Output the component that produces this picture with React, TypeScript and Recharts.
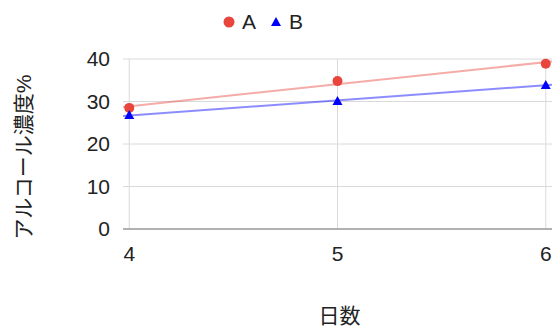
import {
  CartesianGrid,
  ComposedChart,
  Legend,
  Line,
  ReferenceLine,
  Scatter,
  XAxis,
  YAxis,
} from "recharts";

const days = [4, 5, 6];
const seriesA = [28.5, 34.8, 38.9];
const seriesB = [26.8, 30.1, 33.9];
const yTicks = [0, 10, 20, 30, 40];

const X_DOMAIN: [number, number] = [3.97, 6.03];
const FONT = "'Liberation Sans', Arial, 'Noto Sans CJK JP', sans-serif";
const RED = "#e8453c";
const BLUE = "#0000ff";
const GRID = "#dadada";

// least-squares line evaluated at both ends of the x domain
function trendline(xs: number[], ys: number[]) {
  const n = xs.length;
  const mx = xs.reduce((s, v) => s + v, 0) / n;
  const my = ys.reduce((s, v) => s + v, 0) / n;
  let num = 0;
  let den = 0;
  xs.forEach((x, i) => {
    num += (x - mx) * (ys[i] - my);
    den += (x - mx) * (x - mx);
  });
  const slope = num / den;
  return X_DOMAIN.map((x) => ({ x, y: my + slope * (x - mx) }));
}

const pointsA = days.map((x, i) => ({ x, y: seriesA[i] }));
const pointsB = days.map((x, i) => ({ x, y: seriesB[i] }));
const trendA = trendline(days, seriesA);
const trendB = trendline(days, seriesB);

function Dot({ cx, cy }: { cx?: number; cy?: number }) {
  if (cx == null || cy == null) return null;
  return <circle cx={cx} cy={cy} r={5} fill={RED} />;
}

function Tri({ cx, cy }: { cx?: number; cy?: number }) {
  if (cx == null || cy == null) return null;
  return (
    <polygon
      points={`${cx},${cy - 5} ${cx + 5},${cy + 4} ${cx - 5},${cy + 4}`}
      fill={BLUE}
    />
  );
}

function LegendBox() {
  const text = { position: "absolute" as const, top: 0, fontSize: 21, lineHeight: "24px", color: "#222" };
  return (
    <div style={{ position: "relative", width: 559, height: 24, fontFamily: FONT }}>
      <svg width={559} height={24} style={{ position: "absolute", left: 0, top: 0 }}>
        <circle cx={229} cy={12} r={5.5} fill={RED} />
        <polygon points="276,7 281,16 271,16" fill={BLUE} />
      </svg>
      <span style={{ ...text, left: 242 }}>A</span>
      <span style={{ ...text, left: 289 }}>B</span>
    </div>
  );
}

export default function App() {
  return (
    <div style={{ position: "absolute", left: 0, top: 0, width: 559, height: 329, background: "#fff" }}>
      <ComposedChart
        width={559}
        height={329}
        margin={{ top: 35, right: 7, bottom: 70, left: 63 }}
        style={{ fontFamily: FONT }}
      >
        <CartesianGrid stroke={GRID} vertical={false} />
        {days.map((d) => (
          <ReferenceLine key={d} x={d} stroke={GRID} />
        ))}
        <XAxis
          type="number"
          dataKey="x"
          domain={X_DOMAIN}
          ticks={days}
          interval={0}
          allowDataOverflow
          height={30}
          tickSize={0}
          tickMargin={17}
          tickLine={false}
          axisLine={{ stroke: "#9e9e9e", strokeWidth: 1.5 }}
          tick={{ fill: "#222", fontSize: 21 }}
          label={{
            content: ({ viewBox }: any) => (
              <text
                x={viewBox.x + viewBox.width / 2 + 2}
                y={323}
                textAnchor="middle"
                fontSize={21}
                fill="#222"
                fontFamily={FONT}
              >
                日数
              </text>
            ),
          }}
        />
        <YAxis
          type="number"
          domain={[0, 40]}
          ticks={yTicks}
          interval={0}
          width={60}
          tickSize={0}
          tickMargin={13}
          tickLine={false}
          axisLine={false}
          tick={{ fill: "#222", fontSize: 21 }}
          label={{
            content: ({ viewBox }: any) => {
              const cx = 31;
              const cy = viewBox.y + viewBox.height / 2 + 13;
              return (
                <text
                  x={cx}
                  y={cy}
                  transform={`rotate(-90, ${cx}, ${cy})`}
                  textAnchor="middle"
                  fontSize={21}
                  fill="#222"
                  fontFamily={FONT}
                >
                  アルコール濃度%
                </text>
              );
            },
          }}
        />
        <Legend
          verticalAlign="top"
          content={() => <LegendBox />}
          wrapperStyle={{ top: 10, left: 0, width: 559 }}
        />
        <Line
          data={trendA}
          dataKey="y"
          type="linear"
          stroke={RED}
          strokeOpacity={0.45}
          strokeWidth={2}
          dot={false}
          activeDot={false}
          legendType="none"
          isAnimationActive={false}
        />
        <Line
          data={trendB}
          dataKey="y"
          type="linear"
          stroke={BLUE}
          strokeOpacity={0.45}
          strokeWidth={2}
          dot={false}
          activeDot={false}
          legendType="none"
          isAnimationActive={false}
        />
        <Scatter name="A" data={pointsA} dataKey="y" shape={<Dot />} isAnimationActive={false} />
        <Scatter name="B" data={pointsB} dataKey="y" shape={<Tri />} isAnimationActive={false} />
      </ComposedChart>
    </div>
  );
}
